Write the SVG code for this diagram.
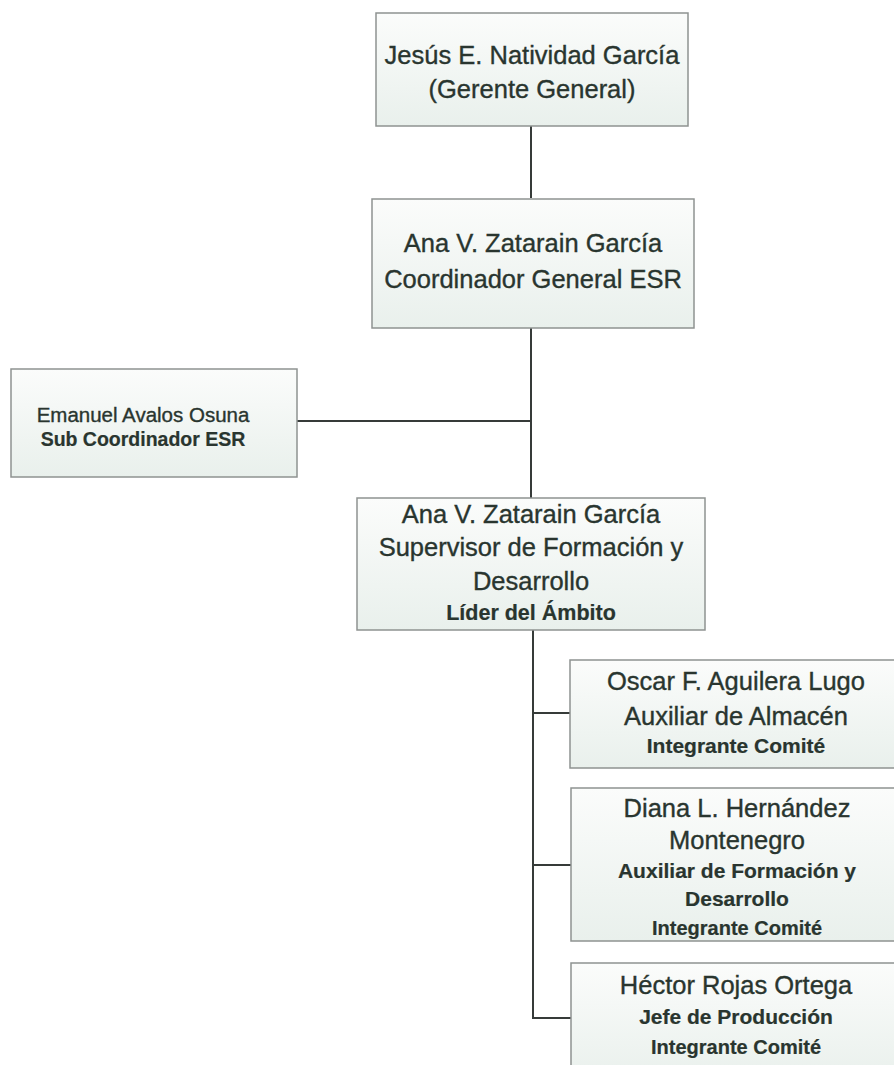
<svg xmlns="http://www.w3.org/2000/svg" width="894" height="1065" viewBox="0 0 894 1065">
<defs>
<linearGradient id="fill" x1="0" y1="0" x2="0" y2="1">
<stop offset="0" stop-color="#fbfcfb"/>
<stop offset="1" stop-color="#e9f0ec"/>
</linearGradient>
<style>
.box{fill:url(#fill);stroke:#8e9391;stroke-width:1.5}
.t{font-family:"Liberation Sans",Arial,sans-serif;fill:#29352f;stroke:#29352f;stroke-width:0.35;text-anchor:middle}
.n{font-size:25.5px}
.s{font-size:20.5px}
.b{font-weight:bold;stroke-width:0.2}
.c line{stroke:#363b39;stroke-width:2;fill:none}
</style>
</defs>
<rect width="894" height="1065" fill="#ffffff"/>
<g class="c" id="connectors">
<line x1="531" y1="126" x2="531" y2="198"/>
<line x1="531" y1="328" x2="531" y2="498"/>
<line x1="297" y1="421" x2="531" y2="421"/>
<line x1="533" y1="630" x2="533" y2="1018"/>
<line x1="532" y1="713" x2="570" y2="713"/>
<line x1="532" y1="865" x2="571" y2="865"/>
<line x1="532" y1="1018" x2="571" y2="1018"/>
</g>
<g id="gerente">
<rect class="box" x="376" y="13" width="312" height="113"/>
<text class="t n" x="532" y="64">Jesús E. Natividad García</text>
<text class="t n" x="532" y="98">(Gerente General)</text>
</g>
<g id="coordinador">
<rect class="box" x="372" y="199" width="322" height="129"/>
<text class="t n" x="533" y="252">Ana V. Zatarain García</text>
<text class="t n" x="533" y="288">Coordinador General ESR</text>
</g>
<g id="subcoordinador">
<rect class="box" x="11" y="369" width="286" height="108"/>
<text class="t s" x="143" y="422">Emanuel Avalos Osuna</text>
<text class="t b" style="font-size:19.5px" x="143" y="446">Sub Coordinador ESR</text>
</g>
<g id="supervisor">
<rect class="box" x="357" y="498" width="348" height="132"/>
<text class="t n" x="531" y="523">Ana V. Zatarain García</text>
<text class="t n" x="531" y="556">Supervisor de Formación y</text>
<text class="t n" x="531" y="590">Desarrollo</text>
<text class="t b" style="font-size:21.5px" x="531" y="620">Líder del Ámbito</text>
</g>
<g id="oscar">
<rect class="box" x="570" y="660" width="330" height="108"/>
<text class="t n" x="736" y="690">Oscar F. Aguilera Lugo</text>
<text class="t n" x="736" y="725">Auxiliar de Almacén</text>
<text class="t b" style="font-size:21px" x="736" y="753">Integrante Comité</text>
</g>
<g id="diana">
<rect class="box" x="571" y="788" width="330" height="153"/>
<text class="t n" x="737" y="817">Diana L. Hernández</text>
<text class="t n" x="737" y="849">Montenegro</text>
<text class="t b" style="font-size:21px" x="737" y="878">Auxiliar de Formación y</text>
<text class="t b" style="font-size:21px" x="737" y="906">Desarrollo</text>
<text class="t b" style="font-size:20px" x="737" y="935">Integrante Comité</text>
</g>
<g id="hector">
<rect class="box" x="571" y="963" width="330" height="120"/>
<text class="t n" x="736" y="994">Héctor Rojas Ortega</text>
<text class="t b" style="font-size:21px" x="736" y="1024">Jefe de Producción</text>
<text class="t b" style="font-size:20px" x="736" y="1054">Integrante Comité</text>
</g>
</svg>
